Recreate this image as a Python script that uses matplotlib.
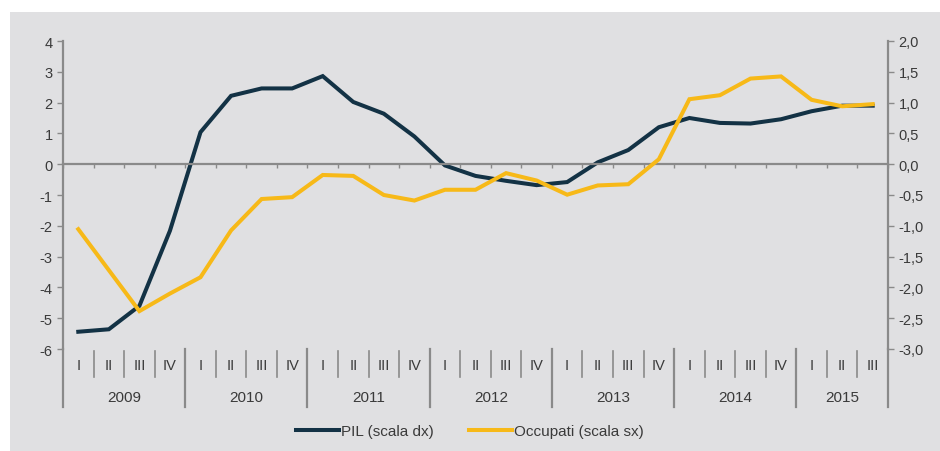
import numpy as np
import matplotlib
matplotlib.use("Agg")
import matplotlib.pyplot as plt
from matplotlib.patches import Rectangle
from matplotlib.ticker import FuncFormatter, MultipleLocator

plt.rcParams['font.family'] = ['Liberation Sans', 'DejaVu Sans']
plt.rcParams['axes.unicode_minus'] = False

# Trimestri 2009 I - 2015 III
years = ['2009', '2010', '2011', '2012', '2013', '2014', '2015']
quarters = ['I', 'II', 'III', 'IV'] * 6 + ['I', 'II', 'III']

# PIL (scala dx), var. % tendenziale
pil = [-2.72, -2.68, -2.30, -1.08, 0.52, 1.11, 1.23, 1.23, 1.43, 1.01, 0.82, 0.45,
       -0.02, -0.19, -0.27, -0.34, -0.29, 0.03, 0.23, 0.60, 0.75, 0.67, 0.66, 0.73,
       0.86, 0.95, 0.95]
# Occupati (scala sx), var. % tendenziale
occupati = [-2.11, -3.44, -4.77, -4.20, -3.67, -2.15, -1.13, -1.07, -0.35, -0.38, -1.00, -1.18,
            -0.83, -0.83, -0.29, -0.53, -0.99, -0.69, -0.65, 0.16, 2.11, 2.24, 2.78, 2.85,
            2.09, 1.88, 1.95]

GRID_COL = '#8a8a8a'
TXT_COL = '#3a3a3a'
NAVY = '#133245'
YELLOW = '#f7b918'

fig = plt.figure(figsize=(9.4, 4.52), dpi=100)
fig.patches.append(Rectangle((10 / 940, 0), 1, 1 - 13 / 452, transform=fig.transFigure,
                             facecolor='#e0e0e2', edgecolor='none', zorder=-10))

ax = fig.add_axes([63 / 940, 1 - 350 / 452, (888 - 63) / 940, 308 / 452])
ax2 = ax.twinx()
# occupati disegnati sopra il PIL
ax.set_zorder(ax2.get_zorder() + 1)
ax.patch.set_visible(False)
ax2.patch.set_visible(False)

x = np.arange(len(quarters))
l_occ, = ax.plot(x, occupati, color=YELLOW, lw=2.9, solid_joinstyle='miter', zorder=3)
l_pil, = ax2.plot(x, pil, color=NAVY, lw=2.9, solid_joinstyle='miter', zorder=3)

ax.set_xlim(-0.5, len(quarters) - 0.5)
ax.set_ylim(-6, 4)
ax2.set_ylim(-3, 2)
ax.yaxis.set_major_locator(MultipleLocator(1))
ax2.yaxis.set_major_locator(MultipleLocator(0.5))
ax2.yaxis.set_major_formatter(FuncFormatter(lambda v, p: f"{v:.1f}".replace('.', ',').replace('-0,0', '0,0')))

for a in (ax, ax2):
    a.spines['top'].set_visible(False)
    a.spines['bottom'].set_visible(False)
    for s in ('left', 'right'):
        a.spines[s].set_color(GRID_COL)
        a.spines[s].set_linewidth(1.6)
    a.tick_params(axis='y', colors=GRID_COL, labelcolor=TXT_COL, labelsize=10.5, length=4, width=1)
ax.spines['right'].set_visible(False)
ax2.spines['left'].set_visible(False)

# asse orizzontale sullo zero, tacche tra i trimestri
ax.spines['bottom'].set_visible(True)
ax.spines['bottom'].set_position(('data', 0))
ax.spines['bottom'].set_color(GRID_COL)
ax.spines['bottom'].set_linewidth(1.6)
ax.set_xticks(np.arange(len(quarters) + 1) - 0.5)
ax.tick_params(axis='x', colors=GRID_COL, length=3, width=1, labelbottom=False)

# etichette categoriali sotto il grafico
trans = ax.get_xaxis_transform()
for i, q in enumerate(quarters):
    ax.text(i, -0.052, q, transform=trans, ha='center', va='center', fontsize=10.5, color=TXT_COL)
for k in range(len(quarters) + 1):
    b = k - 0.5
    if k % 4 == 0 or k == len(quarters):
        ax.plot([b, b], [0, -0.188], transform=trans, color=GRID_COL, lw=1.6, clip_on=False)
    else:
        ax.plot([b, b], [-0.008, -0.092], transform=trans, color=GRID_COL, lw=1.2, clip_on=False)
for j, y in enumerate(years):
    start = j * 4
    end = min(start + 4, len(quarters))
    ax.text((start + end - 1) / 2, -0.155, y, transform=trans, ha='center', va='center',
            fontsize=11, color=TXT_COL)

fig.legend([l_pil, l_occ], ['PIL (scala dx)', 'Occupati (scala sx)'], loc='center',
           bbox_to_anchor=(0.5, 1 - 432 / 452), ncol=2, frameon=False, fontsize=11,
           handlelength=2.8, handletextpad=0.15, columnspacing=2.3, labelcolor=TXT_COL)

fig.savefig('out.png', dpi=100)
